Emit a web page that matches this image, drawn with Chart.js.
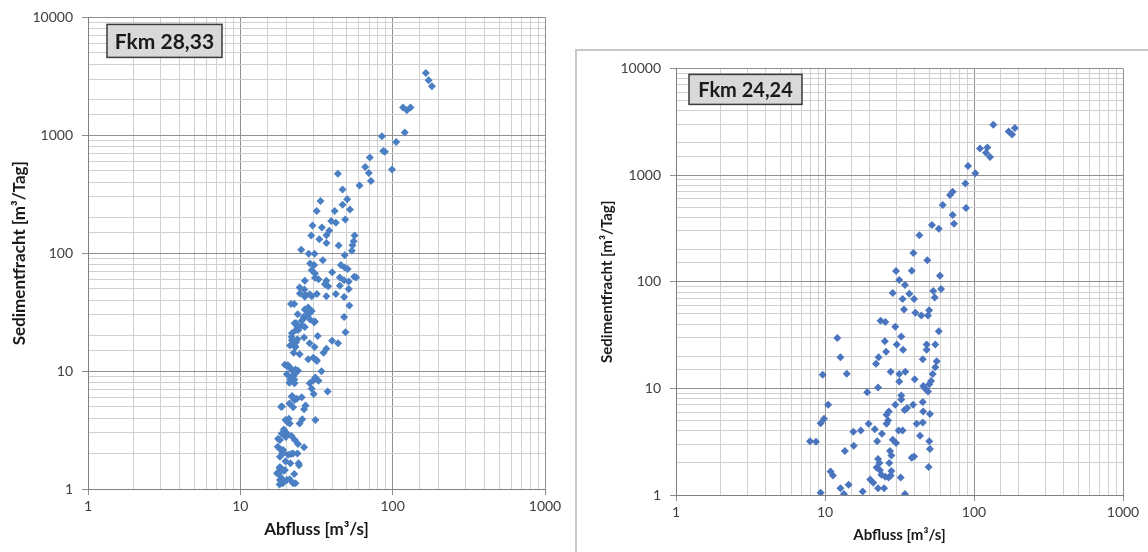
<!DOCTYPE html>
<html>
<head>
<meta charset="utf-8">
<script src="https://cdn.jsdelivr.net/npm/chart.js@4.4.1/dist/chart.umd.min.js"></script>
<style>
  html, body { margin: 0; padding: 0; background: #fff; overflow: hidden; width: 1148px; height: 552px; }
  #left { position: absolute; left: 0; top: 0; }
  #frame { position: absolute; left: 575px; top: 49px; width: 640px; height: 600px; border: 2px solid #c8c8c8; }
  #right { position: absolute; left: 577px; top: 51px; }
</style>
</head>
<body>
<canvas id="left" width="575" height="552"></canvas>
<div id="frame"></div>
<canvas id="right" width="571" height="501"></canvas>
<script>
// Fkm 28,33 - Abfluss [m3/s] und Sedimentfracht [m3/Tag]
const abflussLinks = [
  165, 172, 181, 117, 131, 124, 120, 85, 105.5, 86.6, 89, 70.8, 66, 69.7, 72, 99,
  43.7, 60.6, 46.9, 50.3, 33.6, 31.7, 41.6, 46.9, 52.4, 39.5, 42.4, 48.8, 29.8, 34.3,
  38.3, 36.8, 29.2, 33, 36.8, 44.2, 56.2, 55.5, 54.5, 54, 25.1, 28.1, 30.7, 48.4,
  34.8, 28.7, 30.5, 45.7, 48.4, 50.6, 29.4, 30.9, 40.1, 55.9, 57.6, 45, 47.9, 30.9,
  32.6, 26.5, 36.7, 51.5, 24.5, 26.3, 35.9, 37.7, 51.5, 45, 26.8, 29.4, 31.8, 36.7,
  42.4, 48, 21.5, 22.6, 27.9, 29.4, 26.5, 52, 48, 23.8, 26.5, 28.7, 23.2, 25.3, 30.9,
  26.5, 24.0, 30.5, 49, 21.7, 23.7, 26.2, 32.2, 40, 43.8, 21.2, 23, 36.7, 35.2, 22.4,
  24.5, 27.9, 31.8, 19.6, 20.8, 23, 23.9, 34.1, 20.2, 21.5, 22.6, 31.1, 32.6, 21,
  37.4, 29.4, 30.3, 21.9, 23.5, 25.3, 18.5, 21, 22.2, 26.8, 26.2, 31.1, 20.8, 20.4,
  25.5, 24.5, 19.3, 20.2, 21.7, 17.7, 22.8, 23.9, 26.2, 18.3, 19.0, 20.6, 21.5, 23.7,
  19.8, 21.3, 24.3, 18.1, 19.2, 22.6, 17.4, 18.6, 20.2, 18.1, 19.0, 23,
  20.3, 21.2, 28, 28, 26, 25.3, 21.8, 23.2, 30.1, 31.6, 22.2, 21.6, 18.8, 18.2, 19.8,
  18.2, 19, 22.2, 24.1, 17.8, 22.2,
  24.6, 26.5, 28.5, 27.5, 28.5, 22.7, 23.7, 21.8, 23.2, 22.2, 22.9, 28.5, 30.7,
  20.5, 21.8, 22.7, 21.3, 22.7, 28.5, 30.3, 21.8, 22.7, 19.8, 21.1, 18.7, 20,
  17.6, 19.1, 18.2, 19.6, 18.2, 21.1
];
const frachtLinks = [
  3370, 2925, 2600, 1717, 1717, 1630, 1054, 981, 878, 736, 725, 647, 539, 480, 410, 512,
  473, 375, 347, 287, 277, 228, 228, 257, 235, 188, 181, 193, 172, 165,
  155, 142, 141, 131, 122, 116, 141, 126, 117, 105, 107, 99, 99, 96,
  87, 81.8, 79.6, 79.6, 75.6, 73.6, 71.8, 67.3, 69, 63, 62.2, 62.2, 59, 62,
  60, 58.3, 58.3, 57.5, 51.2, 49.2, 54.6, 52.5, 49.8, 53, 44.3, 43.2, 45, 43.2,
  45, 42.6, 37, 37, 34.7, 32.4, 33.3, 36, 28.8, 30.4, 28.8, 27.4, 25.4, 24.4, 26.4,
  23.7, 22.3, 26, 21.4, 19.5, 18.6, 19.3, 19.8, 18.1, 17.2, 16.5, 16.1, 15.5, 14.3, 14.3,
  13.9, 12.6, 12.2, 11.3, 11, 10.3, 10.05, 9.95, 9.4, 8.84, 8.5, 8.84, 8.3, 7.96,
  6.73, 7.08, 6.38, 6.14, 5.82, 6.0, 4.99, 5.32, 4.93, 5.12, 4.74, 3.84, 3.94, 3.7,
  3.9, 3.6, 3.2, 2.97, 2.81, 2.67, 2.6, 2.41, 2.26, 2.17, 2.03, 1.95, 1.98, 2.0,
  1.72, 1.65, 1.59, 1.51, 1.43, 1.34, 1.36, 1.24, 1.19, 1.09, 1.12, 1.12,
  11, 10.7, 32.8, 30.7, 28.8, 26.7, 18.3, 17.6, 13, 12.4, 8.95, 8.4, 5, 2.6, 2.77,
  1.88, 2.0, 2.0, 1.65, 1.36, 1.12,
  45.6, 42.7, 44.8, 32.8, 31, 25.4, 23.7, 20.9, 22.3, 17.2, 16, 17.2, 16,
  11.2, 10.2, 9.4, 8.5, 7.9, 7.9, 8.4, 6.05, 5.7, 3.84, 3.6, 2.96, 2.77,
  2.28, 2.14, 1.54, 1.45, 1.19, 1.21
];

// Fkm 24,24
const abflussRechts = [
  134.8, 171, 180, 188, 109.7, 122.8, 120.4, 128, 91.2, 102, 87.5, 71.9, 69, 61.7, 88.4,
  71.9, 73.4, 52.2, 58, 43, 39.2, 48.6, 30, 38.2, 31.5, 34.4, 59.1, 28.5, 36.8, 53.3,
  60.1, 33.2, 39.6, 54.5, 33.9, 40.4, 44.3, 49.1, 50, 23.6, 25.4, 29.6, 58, 12.1, 32.5,
  25.2, 30.3, 33.4, 48.1, 55, 48.1, 25.7, 12.7, 22.9, 22, 45.3, 56.2, 55, 9.65, 14,
  27.6, 31.5, 34.6, 31.5, 40, 52.8, 51.5, 50.1, 45.7, 47.1, 49.1, 19.2, 22.7, 32.5,
  32.5, 10.5, 29.6, 34.2, 35.6, 26.8, 25.9, 39, 45.3, 45.6, 50.6, 26.5, 25.9, 9.85,
  9.35, 41.2, 45.3, 19.6, 21.6, 15.5, 17.4, 24.1, 31.2, 33.2, 43.4, 7.93, 8.7, 22.4,
  28.5, 30, 50.1, 50.6, 15.6, 13.6, 27.3, 27.9, 38.2, 39.6, 22.7, 23.2, 27, 49.6,
  10.9, 11.3, 22.2, 23.4, 27.9, 27.6, 23.9, 25.4, 26.7, 32.2, 20.1, 21.1, 22.7, 24.9,
  14.4, 12.7, 17.9, 13.4, 9.35, 34.4
];
const frachtRechts = [
  2970, 2557, 2398, 2766, 1775, 1815, 1619, 1476, 1218, 1040, 834, 698, 649, 524, 491,
  423, 349, 341, 313, 272, 186, 159, 126, 127, 104, 93, 114, 78.5, 77.3, 81.9,
  85.5, 69, 69, 71, 55, 51.1, 48.3, 48.3, 54, 43, 41.8, 37.9, 34.3, 29.7, 30.6,
  27.7, 25.8, 23, 25.8, 25.8, 23, 22, 19.6, 19.6, 17, 18.7, 18, 15.8, 13.4, 13.7,
  14.3, 13.6, 14.3, 11.6, 12.2, 13.6, 11.7, 10.9, 10.5, 9.9, 9.34, 9.2, 10.2, 8.57,
  7.87, 7.02, 7.02, 6.27, 6.54, 6.08, 5.67, 7.02, 7.44, 6.08, 5.75, 4.99, 4.65, 5.2,
  4.71, 4.65, 4.78, 4.65, 4.14, 3.91, 4.03, 3.75, 4.03, 4.03, 3.59, 3.2, 3.16, 3.2,
  3.3, 3.07, 3.2, 2.7, 2.9, 2.58, 2.58, 2.34, 2.24, 2.3, 2.18, 2.0, 2.0, 1.83,
  1.66, 1.52, 1.81, 1.71, 1.68, 1.52, 1.55, 1.48, 1.46, 1.46, 1.4, 1.3, 1.16, 1.16,
  1.25, 1.16, 1.08, 1.02, 1.05, 1.02
];

const xTicks = [1, 10, 100, 1000];
const yTicks = [1, 10, 100, 1000, 10000];

Chart.defaults.font.family = 'Lato, "Open Sans", sans-serif';
Chart.defaults.color = '#404040';

const istDekade = v => Math.abs(Math.log10(v) - Math.round(Math.log10(v))) < 1e-9;

function punkte(qs, ss) {
  return qs.map((q, i) => ({ x: q, y: ss[i] }));
}

const labelBox = {
  id: 'labelBox',
  afterDraw(chart, args, opts) {
    const ctx = chart.ctx;
    const a = chart.chartArea;
    const x = a.left + opts.dx, y = a.top + opts.dy;
    ctx.save();
    ctx.fillStyle = '#d9d9d9';
    ctx.fillRect(x, y, opts.w, opts.h);
    ctx.strokeStyle = '#3a3a3a';
    ctx.lineWidth = 1.5;
    ctx.strokeRect(x, y, opts.w, opts.h);
    ctx.fillStyle = '#1a1a1a';
    ctx.font = 'bold ' + opts.size + 'px Lato, sans-serif';
    ctx.textAlign = 'center';
    ctx.textBaseline = 'middle';
    ctx.fillText(opts.text, x + opts.w / 2, y + opts.h / 2 + 1);
    ctx.restore();
  }
};

function logAchse(titel, ticksListe, fit, titelSize, titelPad, tickPad) {
  return {
    type: 'logarithmic',
    min: ticksListe[0],
    max: ticksListe[ticksListe.length - 1],
    afterFit: fit,
    border: { color: '#7f7f7f', width: 1 },
    grid: {
      color: c => istDekade(c.tick.value) ? '#8f8f8f' : '#d0d0d0',
      tickColor: c => istDekade(c.tick.value) ? '#8f8f8f' : 'rgba(0,0,0,0)',
      tickLength: 6,
      lineWidth: 1
    },
    ticks: {
      autoSkip: false,
      maxRotation: 0,
      padding: tickPad,
      font: { size: 14 },
      color: '#404040',
      callback: v => ticksListe.includes(v) ? String(v) : ''
    },
    title: {
      display: true,
      text: titel,
      color: '#1a1a1a',
      font: { size: titelSize, weight: 'bold' },
      padding: { top: titelPad, bottom: titelPad }
    }
  };
}

function streuDiagramm(id, qs, ss, farbe, maße, box) {
  new Chart(document.getElementById(id), {
    type: 'scatter',
    data: {
      datasets: [{
        data: punkte(qs, ss),
        backgroundColor: farbe,
        borderColor: farbe,
        borderWidth: 0,
        pointStyle: 'rectRot',
        pointRadius: 4,
        pointHoverRadius: 4
      }]
    },
    options: {
      responsive: false,
      animation: false,
      devicePixelRatio: 1,
      layout: { padding: { top: maße.top, right: maße.right, left: 0, bottom: 0 } },
      plugins: {
        legend: { display: false },
        tooltip: { enabled: false },
        labelBox: box
      },
      scales: {
        x: logAchse('Abfluss [m³/s]', xTicks, s => { s.height = maße.xh; }, maße.titel, maße.xPad, 3),
        y: logAchse('Sedimentfracht [m³/Tag]', yTicks, s => { s.width = maße.yw; }, maße.titel, maße.yPad, 9)
      }
    },
    plugins: [labelBox]
  });
}

streuDiagramm('left', abflussLinks, frachtLinks, '#4b7fc4',
  { top: 17, right: 30, xh: 63, yw: 88, titel: 17, xPad: 12, yPad: 9 },
  { dx: 19, dy: 7, w: 115, h: 33, size: 21, text: 'Fkm 28,33' });

streuDiagramm('right', abflussRechts, frachtRechts, '#4b74be',
  { top: 14, right: 25, xh: 57, yw: 99, titel: 15, xPad: 8, yPad: 21 },
  { dx: 13, dy: 6, w: 113, h: 30, size: 20, text: 'Fkm 24,24' });
</script>
</body>
</html>
